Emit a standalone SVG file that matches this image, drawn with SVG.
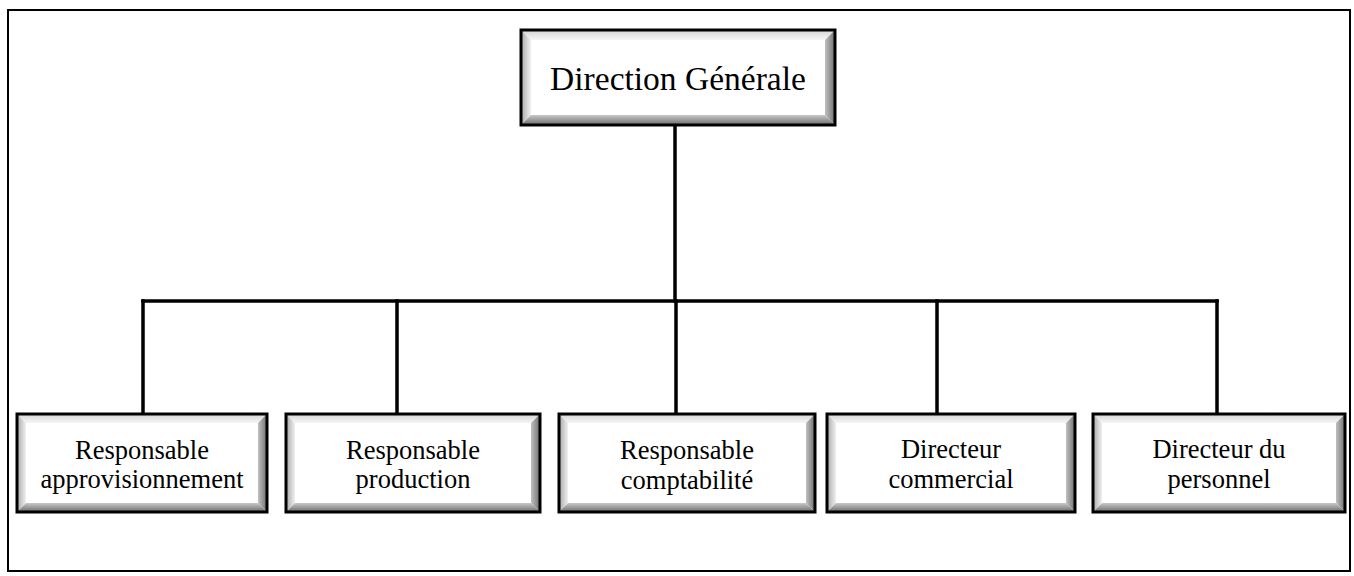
<svg xmlns="http://www.w3.org/2000/svg" width="1354" height="576" viewBox="0 0 1354 576">
<style>
.frame{fill:none;stroke:#000;stroke-width:2}
.face{fill:#fff}
.bt{fill:url(#gTop)}
.bl{fill:url(#gLeft)}
.br{fill:url(#gRight)}
.bb{fill:url(#gBottom)}
.border{fill:none;stroke:#000;stroke-width:3}
.conn{fill:none;stroke:#000;stroke-width:3.5;stroke-linecap:square}
text{font-family:"Liberation Serif","Times New Roman",serif;fill:#000;text-anchor:middle}
.t1{font-size:33.5px}
.t2{font-size:26.5px}
</style>
<defs>
<linearGradient id="gTop" x1="0" y1="0" x2="0" y2="1"><stop offset="0" stop-color="#d4d4d4"/><stop offset="1" stop-color="#f6f6f6"/></linearGradient>
<linearGradient id="gLeft" x1="0" y1="0" x2="1" y2="0"><stop offset="0" stop-color="#a8a8a8"/><stop offset="1" stop-color="#f0f0f0"/></linearGradient>
<linearGradient id="gRight" x1="0" y1="0" x2="1" y2="0"><stop offset="0" stop-color="#c0c0c0"/><stop offset="1" stop-color="#707070"/></linearGradient>
<linearGradient id="gBottom" x1="0" y1="0" x2="0" y2="1"><stop offset="0" stop-color="#c8c8c8"/><stop offset="1" stop-color="#6c6c6c"/></linearGradient>
</defs>
<rect x="0" y="0" width="1354" height="576" fill="#fff"/>
<rect class="frame" x="8" y="10" width="1342" height="561"/>
<g id="connectors">
<path class="conn" d="M675 125V301"/>
<path class="conn" d="M143 301H1217"/>
<path class="conn" d="M143 301V414M397 301V414M676 301V414M937 301V414M1217 301V414"/>
</g>
<g id="n0">
<rect class="face" x="521" y="30" width="314" height="95"/>
<polygon class="bt" points="521,30 835,30 825,40 531,40"/>
<polygon class="bl" points="521,30 531,40 531,115 521,125"/>
<polygon class="br" points="835,30 835,125 825,115 825,40"/>
<polygon class="bb" points="521,125 531,115 825,115 835,125"/>
<rect class="border" x="521" y="30" width="314" height="95"/>
<text class="t1" x="678" y="90">Direction Générale</text>
</g>
<g id="n1">
<rect class="face" x="17" y="414" width="250" height="98"/>
<polygon class="bt" points="17,414 267,414 258,423 26,423"/>
<polygon class="bl" points="17,414 26,423 26,503 17,512"/>
<polygon class="br" points="267,414 267,512 258,503 258,423"/>
<polygon class="bb" points="17,512 26,503 258,503 267,512"/>
<rect class="border" x="17" y="414" width="250" height="98"/>
<text class="t2" x="142" y="459">Responsable</text>
<text class="t2" x="142" y="488">approvisionnement</text>
</g>
<g id="n2">
<rect class="face" x="286" y="414" width="254" height="98"/>
<polygon class="bt" points="286,414 540,414 531,423 295,423"/>
<polygon class="bl" points="286,414 295,423 295,503 286,512"/>
<polygon class="br" points="540,414 540,512 531,503 531,423"/>
<polygon class="bb" points="286,512 295,503 531,503 540,512"/>
<rect class="border" x="286" y="414" width="254" height="98"/>
<text class="t2" x="413" y="459">Responsable</text>
<text class="t2" x="413" y="488">production</text>
</g>
<g id="n3">
<rect class="face" x="559" y="414" width="256" height="98"/>
<polygon class="bt" points="559,414 815,414 806,423 568,423"/>
<polygon class="bl" points="559,414 568,423 568,503 559,512"/>
<polygon class="br" points="815,414 815,512 806,503 806,423"/>
<polygon class="bb" points="559,512 568,503 806,503 815,512"/>
<rect class="border" x="559" y="414" width="256" height="98"/>
<text class="t2" x="687" y="459">Responsable</text>
<text class="t2" x="687" y="489">comptabilité</text>
</g>
<g id="n4">
<rect class="face" x="827" y="414" width="248" height="98"/>
<polygon class="bt" points="827,414 1075,414 1066,423 836,423"/>
<polygon class="bl" points="827,414 836,423 836,503 827,512"/>
<polygon class="br" points="1075,414 1075,512 1066,503 1066,423"/>
<polygon class="bb" points="827,512 836,503 1066,503 1075,512"/>
<rect class="border" x="827" y="414" width="248" height="98"/>
<text class="t2" x="951" y="458">Directeur</text>
<text class="t2" x="951" y="488">commercial</text>
</g>
<g id="n5">
<rect class="face" x="1093" y="414" width="252" height="98"/>
<polygon class="bt" points="1093,414 1345,414 1336,423 1102,423"/>
<polygon class="bl" points="1093,414 1102,423 1102,503 1093,512"/>
<polygon class="br" points="1345,414 1345,512 1336,503 1336,423"/>
<polygon class="bb" points="1093,512 1102,503 1336,503 1345,512"/>
<rect class="border" x="1093" y="414" width="252" height="98"/>
<text class="t2" x="1219" y="458">Directeur du</text>
<text class="t2" x="1219" y="488">personnel</text>
</g>
</svg>
